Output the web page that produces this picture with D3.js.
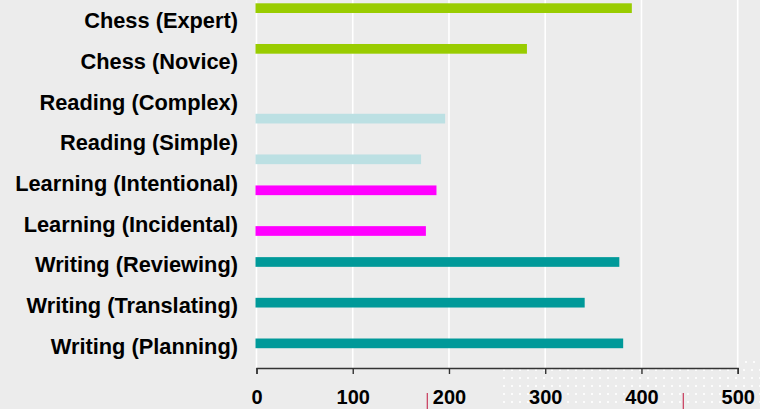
<!DOCTYPE html>
<html>
<head>
<meta charset="utf-8">
<script src="https://cdn.jsdelivr.net/npm/d3@7/dist/d3.min.js"></script>
<style>
html,body{margin:0;padding:0;background:#ececec;}
svg{display:block;}
</style>
</head>
<body>
<svg id="chart" width="760" height="409"></svg>
<script>
// ---- data ----
const categories = [
  "Chess (Expert)", "Chess (Novice)", "Reading (Complex)", "Reading (Simple)",
  "Learning (Intentional)", "Learning (Incidental)", "Writing (Reviewing)",
  "Writing (Translating)", "Writing (Planning)"
];
const groups = ["Chess", "Chess", "Reading", "Reading", "Learning", "Learning", "Writing", "Writing", "Writing"];
const values = [390, 281, 196, 171, 187, 176, 377, 341, 381];
const seriesOrder = ["Chess", "Writing", "Learning", "Reading"];
const seriesColors = ["#99cc00", "#009999", "#ff00ff", "#bce0e3"];
const xTicks = [0, 100, 200, 300, 400, 500];

// ---- layout ----
const W = 760, H = 409;
const svg = d3.select("#chart");
svg.append("rect").attr("width", W).attr("height", H).attr("fill", "#ececec");

const x = d3.scaleLinear().domain([0, 500]).range([256.5, 737.7]);
const y0 = d3.scaleBand().domain(categories).range([1, 367.2]).padding(0);
const y1 = d3.scaleBand().domain(seriesOrder).range([2.3, 2.3 + 4 * 9.7]).padding(0);
const color = d3.scaleOrdinal().domain(seriesOrder).range(seriesColors);

// decoration: dotted pattern bottom-right
const dotsG = svg.append("g");
const dotXs = d3.range(503, 760, 8);
const dotYs = d3.range(369, 409, 8);
dotYs.forEach(yy => dotXs.forEach(xx => {
  dotsG.append("rect").attr("x", xx).attr("y", yy).attr("width", 2).attr("height", 2).attr("fill", "#ffffff").attr("opacity", 0.85);
}));
d3.range(745, 760, 8).forEach(xx => {
  dotsG.append("rect").attr("x", xx).attr("y", 361).attr("width", 2).attr("height", 2).attr("fill", "#ffffff").attr("opacity", 0.85);
});

// gridlines
svg.append("g").selectAll("line").data(xTicks).join("line")
  .attr("x1", d => x(d)).attr("x2", d => x(d))
  .attr("y1", 0).attr("y2", 368)
  .attr("stroke", "#ffffff").attr("stroke-width", 1.6);

// bars
svg.append("g").selectAll("rect").data(categories).join("rect")
  .attr("x", x(0) - 1)
  .attr("y", (d, i) => y0(d) + y1(groups[i]))
  .attr("width", (d, i) => x(values[i]) - x(0) + 1)
  .attr("height", y1.bandwidth())
  .attr("fill", (d, i) => color(groups[i]));

// x axis
const xAxis = svg.append("g").attr("transform", "translate(0,368)")
  .call(d3.axisBottom(x).tickValues(xTicks).tickSize(6).tickSizeOuter(6).tickPadding(16));
xAxis.select(".domain").attr("stroke", "#333").attr("stroke-width", 1.4);
xAxis.selectAll(".tick line").attr("stroke", "#333").attr("stroke-width", 1.4);
xAxis.selectAll(".tick text")
  .attr("fill", "#000")
  .style("font-family", "'Liberation Sans', Arial, sans-serif")
  .style("font-weight", "bold")
  .style("font-size", "20px");

// y labels
svg.append("g").selectAll("text").data(categories).join("text")
  .attr("x", 238)
  .attr("y", d => y0(d) + y0.bandwidth() / 2)
  .attr("dy", "0.32em")
  .attr("text-anchor", "end")
  .attr("fill", "#000")
  .style("font-family", "'Liberation Sans', Arial, sans-serif")
  .style("font-weight", "bold")
  .style("font-size", "21.8px")
  .text(d => d);

// decoration: small red marks at bottom
svg.append("g").selectAll("line").data([427.3, 683.3]).join("line")
  .attr("x1", d => d).attr("x2", d => d)
  .attr("y1", 393).attr("y2", 409)
  .attr("stroke", "#c8385a").attr("stroke-width", 1.2);
</script>
</body>
</html>
